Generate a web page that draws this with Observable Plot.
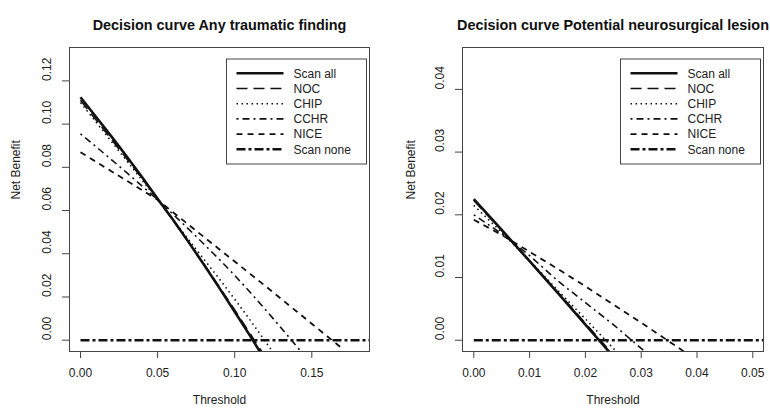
<!DOCTYPE html>
<html><head><meta charset="utf-8">
<script src="https://cdn.jsdelivr.net/npm/d3@7"></script>
<script src="https://cdn.jsdelivr.net/npm/@observablehq/plot@0.6"></script>
<style>body{margin:0;background:#fff}#wrap{display:flex;width:770px;height:412px}</style>
</head><body><div id="wrap"></div>
<script>
const seriesNames = ["Scan all", "NOC", "CHIP", "CCHR", "NICE", "Scan none"];

// Panel A: Any traumatic finding
const titleA = "Decision curve Any traumatic finding";
const thresholdsA = [0, 0.01, 0.02, 0.03, 0.04, 0.05, 0.06, 0.07, 0.08, 0.09, 0.10, 0.11, 0.12, 0.13, 0.14, 0.15, 0.16, 0.17];
const scanAllA = [0.1124, 0.1034, 0.0943, 0.0850, 0.0754, 0.0655, 0.0557, 0.0455, 0.0350, 0.0242, 0.0132, 0.0020, -0.0095, null, null, null, null, null];
const nocA     = [0.1110, 0.1020, 0.0930, 0.0840, 0.0748, 0.0652, 0.0555, 0.0455, 0.0352, 0.0247, 0.0140, 0.0030, -0.0080, null, null, null, null, null];
const chipA    = [0.1100, 0.1010, 0.0920, 0.0830, 0.0740, 0.0650, 0.0558, 0.0466, 0.0375, 0.0284, 0.0190, 0.0093, -0.0007, -0.0107, null, null, null, null];
const cchrA    = [0.0955, 0.0896, 0.0836, 0.0775, 0.0713, 0.0650, 0.0583, 0.0515, 0.0445, 0.0374, 0.0300, 0.0222, 0.0141, 0.0058, -0.0027, -0.0112, null, null];
const niceA    = [0.0870, 0.0826, 0.0782, 0.0738, 0.0694, 0.0650, 0.0592, 0.0535, 0.0478, 0.0421, 0.0364, 0.0307, 0.0250, 0.0192, 0.0134, 0.0076, 0.0018, -0.0040];
const scanNoneThresholdsA = [0, 0.2];
const scanNoneA = [0, 0];
const xTicksA = [0, 0.05, 0.10, 0.15];
const yTicksA = [0, 0.02, 0.04, 0.06, 0.08, 0.10, 0.12];

// Panel B: Potential neurosurgical lesion
const titleB = "Decision curve Potential neurosurgical lesion";
const thresholdsB = [0, 0.005, 0.01, 0.015, 0.02, 0.025, 0.03, 0.035, 0.04];
const scanAllB = [0.0225, 0.0176, 0.0126, 0.0076, 0.0025, -0.0026, null, null, null];
const nocB     = [0.0223, 0.0175, 0.0126, 0.0077, 0.0027, -0.0023, null, null, null];
const chipB    = [0.0215, 0.0172, 0.0127, 0.0080, 0.0034, -0.0013, -0.0060, null, null];
const cchrB    = [0.0200, 0.0170, 0.0135, 0.0095, 0.0060, 0.0025, -0.0013, -0.0050, null];
const niceB    = [0.0192, 0.0168, 0.0141, 0.0114, 0.0086, 0.0057, 0.0028, -0.0002, -0.0032];
const scanNoneThresholdsB = [0, 0.06];
const scanNoneB = [0, 0];
const xTicksB = [0, 0.01, 0.02, 0.03, 0.04, 0.05];
const yTicksB = [0, 0.01, 0.02, 0.03, 0.04];

const lineStyle = {
  "Scan all":  {w: 2.6, dash: null},
  "NOC":       {w: 1.6, dash: "11,6"},
  "CHIP":      {w: 1.6, dash: "1.5,3.5"},
  "CCHR":      {w: 1.6, dash: "2,4,7,4"},
  "NICE":      {w: 1.8, dash: "6,5"},
  "Scan none": {w: 2.4, dash: "9,3,3,3"}
};

function rows(ts, vs) {
  const out = [];
  ts.forEach((t, i) => { if (vs[i] !== null) out.push({t, v: vs[i]}); });
  return out;
}

function panel(cfg) {
  const W = 385, H = 412;
  const series = [
    ["Scan all", rows(cfg.ts, cfg.scanAll)],
    ["NOC", rows(cfg.ts, cfg.noc)],
    ["CHIP", rows(cfg.ts, cfg.chip)],
    ["CCHR", rows(cfg.ts, cfg.cchr)],
    ["NICE", rows(cfg.ts, cfg.nice)],
    ["Scan none", rows(cfg.noneTs, cfg.none)]
  ];
  const marks = [];
  for (const [name, data] of series) {
    const s = lineStyle[name];
    marks.push(Plot.line(data, {x: "t", y: "v", stroke: "#111", strokeWidth: s.w, strokeDasharray: s.dash,
      strokeLinecap: "butt", clip: true}));
  }
  marks.push(
    Plot.frame({stroke: "#444"}),
    Plot.axisX({ticks: cfg.xTicks, tickSize: 7, tickFormat: () => "", stroke: "#444", label: null}),
    Plot.axisY({ticks: cfg.yTicks, tickSize: 7, tickFormat: () => "", stroke: "#444", label: null}),
    Plot.text(cfg.xTicks, {x: d => d, text: d => d.toFixed(2), frameAnchor: "bottom", dy: 22, lineAnchor: "middle", fill: "#222"}),
    Plot.text(cfg.yTicks, {y: d => d, text: d => d.toFixed(2), frameAnchor: "left", dx: -22, rotate: -90, fill: "#222"}),
    Plot.text([cfg.title], {text: d => d, frameAnchor: "top", dy: -28, fontWeight: "bold", fontSize: 14.4, fill: "#111"}),
    Plot.text(["Threshold"], {text: d => d, frameAnchor: "bottom", dy: 52, fill: "#222"}),
    Plot.text(["Net Benefit"], {text: d => d, frameAnchor: "left", dx: cfg.ylabDx, rotate: -90, fill: "#222"})
  );
  const svg = Plot.plot({
    width: W, height: H,
    marginLeft: cfg.ml, marginRight: cfg.mr, marginTop: 47, marginBottom: 61,
    x: {domain: cfg.xDomain, label: null},
    y: {domain: cfg.yDomain, label: null},
    style: {fontFamily: "'Liberation Sans', Arial, sans-serif", fontSize: "12px", background: "white", color: "#222", overflow: "visible"},
    marks
  });
  // legend
  const g = d3.select(svg).append("g").attr("text-anchor", "start");
  const right = W - cfg.mr - 2.5, left = right - 140, top = 47 + 12;
  g.append("rect").attr("x", left).attr("y", top).attr("width", 140).attr("height", 105)
    .attr("fill", "white").attr("stroke", "#444");
  seriesNames.forEach((name, i) => {
    const y = top + 14.3 + i * 15.2;
    const s = lineStyle[name];
    g.append("line").attr("x1", left + 10).attr("x2", left + 57).attr("y1", y).attr("y2", y)
      .attr("stroke", "#111").attr("stroke-width", s.w).attr("stroke-dasharray", s.dash);
    g.append("text").attr("x", left + 67).attr("y", y).attr("dy", "0.35em").attr("fill", "#222")
      .attr("text-anchor", "start").attr("font-size", 12).text(name);
  });
  return svg;
}

const wrap = document.getElementById("wrap");
wrap.append(panel({
  title: titleA, ts: thresholdsA, scanAll: scanAllA, noc: nocA, chip: chipA, cchr: cchrA, nice: niceA,
  noneTs: scanNoneThresholdsA, none: scanNoneA, xTicks: xTicksA, yTicks: yTicksA,
  ml: 69, mr: 16, xDomain: [-0.00713, 0.18742], yDomain: [-0.00523, 0.13545], ylabDx: -53
}));
wrap.append(panel({
  title: titleB, ts: thresholdsB, scanAll: scanAllB, noc: nocB, chip: chipB, cchr: cchrB, nice: niceB,
  noneTs: scanNoneThresholdsB, none: scanNoneB, xTicks: xTicksB, yTicks: yTicksB,
  ml: 77, mr: 7, xDomain: [-0.002025, 0.05192], yDomain: [-0.0018, 0.04668], ylabDx: -51
}));
</script></body></html>
